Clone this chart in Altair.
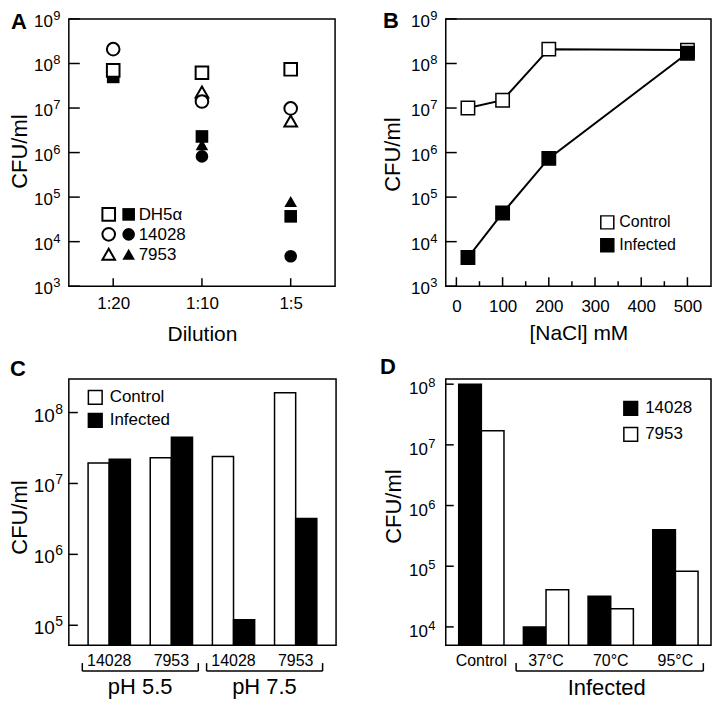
import altair as alt
import pandas as pd

# ------------------------------------------------------------------ data
# Panel A : CFU/ml vs dilution (open = control, filled = infected)
dilutions = ["1:20", "1:10", "1:5"]
strains_a = ["DH5α", "14028", "7953"]
a_open_dh5a = [7.0e7, 6.2e7, 7.4e7]
a_open_14028 = [2.1e8, 1.4e7, 9.8e6]
a_open_7953 = [None, 2.3e7, 5.1e6]
a_fill_dh5a = [5.0e7, 2.3e6, 3.7e4]
a_fill_14028 = [None, 8.2e5, 4.7e3]
a_fill_7953 = [None, 1.5e6, 8.0e4]

# Panel B : CFU/ml vs NaCl
nacl_mM = [25, 100, 200, 500]
b_control = [1.0e7, 1.5e7, 2.1e8, 2.0e8]
b_infected = [4.4e3, 4.4e4, 7.4e5, 1.7e8]
b_series = ["Control", "Infected"]
b_xticks = [0, 100, 200, 300, 400, 500]
b_xminor = [50, 150, 250, 350, 450]

# Panel C : pH
c_groups = ["pH 5.5|14028", "pH 5.5|7953", "pH 7.5|14028", "pH 7.5|7953"]
c_ph_labels = ["pH 5.5", "pH 7.5"]
c_control = [1.95e7, 2.3e7, 2.4e7, 1.9e8]
c_infected = [2.2e7, 4.5e7, 1.2e5, 3.2e6]

# Panel D : temperature
d_groups = ["Control", "37°C", "70°C", "95°C"]
d_strains = ["14028", "7953"]
d_14028 = [1.0e8, 1.0e4, 3.2e4, 4.0e5]
d_7953 = [1.7e7, 4.1e4, 2.0e4, 8.3e4]

# decade exponents shown on y axes
a_exp = [3, 4, 5, 6, 7, 8, 9]
c_exp = [5, 6, 7, 8]
d_exp = [4, 5, 6, 7, 8]

# y-axis domains
a_dom = [1e3, 1e9]
c_dom = [5.24e4, 2.98e8]
d_dom = [5.0e3, 1.22e8]

# ------------------------------------------------------------------ style
FONT = "Liberation Sans"
one = pd.DataFrame({"k": [0]})


def text_at(txt, x, y, size, bold=False, angle=0, align="center", baseline="middle"):
    kw = dict(text=txt, fontSize=size, font=FONT, align=align, baseline=baseline, color="black")
    if bold:
        kw["fontWeight"] = "bold"
    if angle:
        kw["angle"] = angle
    return alt.Chart(one).mark_text(**kw).encode(x=alt.value(x), y=alt.value(y))


def y_decades(exps, scale, xr, dy10, dyexp, fs10, fsexp, ticklen):
    df = pd.DataFrame({"v": [10.0 ** e for e in exps], "e": [str(e) for e in exps]})
    base = alt.Chart(df)
    ticks = base.mark_rule(color="black", strokeWidth=1.5).encode(
        y=alt.Y("v:Q", scale=scale, axis=None), x=alt.value(0), x2=alt.value(ticklen))
    ten = base.mark_text(text="10", align="right", baseline="middle", dy=dy10,
                         fontSize=fs10, font=FONT, color="black").encode(
        x=alt.value(xr), y=alt.Y("v:Q", scale=scale, axis=None))
    ex = base.mark_text(align="left", baseline="middle", dy=dyexp,
                        fontSize=fsexp, font=FONT, color="black").encode(
        x=alt.value(xr + 0.5), y=alt.Y("v:Q", scale=scale, axis=None), text="e:N")
    return [ticks, ten, ex]


# ------------------------------------------------------------------ panel A
WA, HA = 267, 268
ya = alt.Scale(type="log", domain=a_dom, nice=False)
xa = alt.Scale(type="point", domain=dilutions, padding=0.5)
shape_a = alt.Scale(domain=strains_a, range=["square", "circle", "triangle-up"])


def long_a(pairs):
    rows = []
    for s, vals in pairs:
        for d, v in zip(dilutions, vals):
            if v is not None:
                rows.append({"dil": d, "strain": s, "cfu": v})
    return pd.DataFrame(rows)


a_open_df = long_a([("DH5α", a_open_dh5a), ("7953", a_open_7953), ("14028", a_open_14028)])
a_fill_df = long_a([("DH5α", a_fill_dh5a), ("7953", a_fill_7953), ("14028", a_fill_14028)])

a_xaxis = alt.Axis(title="Dilution", labelAngle=0, ticks=False, tickSize=0, domain=False,
                   labelFontSize=17, labelPadding=9, titleFontSize=21, titlePadding=12)
a_x = alt.X("dil:N", scale=xa, axis=a_xaxis)
a_filled = alt.Chart(a_fill_df).mark_point(filled=True, color="black", size=160, opacity=1).encode(
    x=a_x, y=alt.Y("cfu:Q", scale=ya, axis=None),
    shape=alt.Shape("strain:N", scale=shape_a, legend=None))
a_opened = alt.Chart(a_open_df).mark_point(filled=True, fill="white", stroke="black", strokeWidth=2,
                                          size=160, opacity=1).encode(
    x=a_x, y=alt.Y("cfu:Q", scale=ya, axis=None),
    shape=alt.Shape("strain:N", scale=shape_a, legend=None))
a_xticks = alt.Chart(pd.DataFrame({"dil": dilutions})).mark_rule(color="black", strokeWidth=1.5).encode(
    x=a_x, y=alt.value(HA), y2=alt.value(HA - 8))

a_leg = []
for i, (s, shp) in enumerate(zip(strains_a, ["square", "circle", "triangle-up"])):
    yy = 196 + 20 * i
    a_leg.append(alt.Chart(one).mark_point(shape=shp, filled=True, fill="white", stroke="black",
                                           strokeWidth=2, size=160, opacity=1).encode(
        x=alt.value(40), y=alt.value(yy)))
    a_leg.append(alt.Chart(one).mark_point(shape=shp, filled=True, color="black", size=160,
                                           opacity=1).encode(x=alt.value(60), y=alt.value(yy)))
    a_leg.append(text_at(s, 70, yy + 1, 17, align="left"))

panel_a = alt.layer(
    *y_decades(a_exp, ya, -16, 3, -3, 17, 13, 11),
    a_xticks, a_filled, a_opened, *a_leg,
    text_at("CFU/ml", -49, HA / 2 - 1, 22, angle=270),
    text_at("A", -58, 10, 22, bold=True, align="left", baseline="alphabetic"),
).properties(width=WA, height=HA)

# ------------------------------------------------------------------ panel B
WB, HB = 266, 268
yb = alt.Scale(type="log", domain=a_dom, nice=False)
xb = alt.Scale(domain=[-23, 551], nice=False, zero=False)
b_df = pd.DataFrame({
    "nacl": nacl_mM * 2,
    "cfu": b_control + b_infected,
    "series": [b_series[0]] * len(nacl_mM) + [b_series[1]] * len(nacl_mM)})
b_xaxis = alt.Axis(title="[NaCl] mM", values=b_xticks, ticks=False, tickSize=0,
                   domain=False, grid=False, labelFontSize=17, labelPadding=12,
                   titleFontSize=21, titlePadding=8)
b_x = alt.X("nacl:Q", scale=xb, axis=b_xaxis)
b_lines = alt.Chart(b_df).mark_line(color="black", strokeWidth=2).encode(
    x=b_x, y=alt.Y("cfu:Q", scale=yb, axis=None), detail="series:N")
b_points = alt.Chart(b_df).mark_point(shape="square", filled=True, stroke="black", strokeWidth=1.5,
                                      size=180, opacity=1).encode(
    x=b_x, y=alt.Y("cfu:Q", scale=yb, axis=None),
    fill=alt.Fill("series:N", scale=alt.Scale(domain=b_series, range=["white", "black"]),
                  legend=alt.Legend(orient="none", legendX=154, legendY=196, title=None,
                                    symbolType="square", symbolSize=170, symbolStrokeColor="black",
                                    symbolStrokeWidth=1.5, labelFontSize=16, labelFont=FONT,
                                    labelOffset=4, rowPadding=3, padding=0)))
b_major = alt.Chart(pd.DataFrame({"nacl": b_xticks})).mark_rule(
    color="black", strokeWidth=1.5).encode(x=b_x, y=alt.value(HB), y2=alt.value(HB - 9))
b_minor = alt.Chart(pd.DataFrame({"nacl": b_xminor})).mark_rule(
    color="black", strokeWidth=1.5).encode(x=b_x, y=alt.value(HB), y2=alt.value(HB - 5))

panel_b = alt.layer(
    *y_decades(a_exp, yb, -16, 3, -3, 17, 13, 11),
    b_major, b_minor, b_lines, b_points,
    text_at("CFU/ml", -53, HB / 2 + 2, 22, angle=270),
    text_at("B", -63, 9, 22, bold=True, align="left", baseline="alphabetic"),
).properties(width=WB, height=HB)

# ------------------------------------------------------------------ panel C
WC, HC = 268, 267
yc = alt.Scale(type="log", domain=c_dom, nice=False)
xc = alt.Scale(domain=c_groups, paddingInner=0.32, paddingOuter=0.31)
c_df = pd.DataFrame({
    "g": c_groups * 2,
    "cond": ["Control"] * 4 + ["Infected"] * 4,
    "cfu": c_control + c_infected})
c_xaxis = alt.Axis(title=None, labelAngle=0, ticks=False, tickSize=0, domain=False,
                   labelExpr="split(datum.label, '|')[1]", labelFontSize=16, labelPadding=7)
c_bars = alt.Chart(c_df).mark_bar(stroke="black", strokeWidth=1.5).encode(
    x=alt.X("g:N", scale=xc, axis=c_xaxis),
    xOffset=alt.XOffset("cond:N", scale=alt.Scale(domain=["Control", "Infected"], paddingInner=0,
                                                  paddingOuter=0)),
    y=alt.Y("cfu:Q", scale=yc, axis=None),
    y2=alt.Y2Datum(c_dom[0]),
    fill=alt.Fill("cond:N", scale=alt.Scale(domain=["Control", "Infected"], range=["white", "black"]),
                  legend=alt.Legend(orient="none", legendX=18, legendY=10, title=None,
                                    symbolType="square", symbolSize=190, symbolStrokeColor="black",
                                    symbolStrokeWidth=1.5, labelFontSize=17, labelFont=FONT,
                                    labelOffset=6, rowPadding=2, padding=0)))
c_br = pd.DataFrame({"g": [c_groups[0], c_groups[2]], "b": [c_groups[1], c_groups[3]],
                     "lab": c_ph_labels})
c_hline = alt.Chart(c_br).mark_rule(color="black", strokeWidth=1.5, xOffset=-27, x2Offset=27).encode(
    x=alt.X("g:N", scale=xc, axis=c_xaxis), x2="b:N", y=alt.value(HC + 26))
c_lt = alt.Chart(c_br).mark_rule(color="black", strokeWidth=1.5, xOffset=-27).encode(
    x=alt.X("g:N", scale=xc, axis=c_xaxis), y=alt.value(HC + 26), y2=alt.value(HC + 18))
c_rt = alt.Chart(c_br.assign(g=c_br["b"])).mark_rule(color="black", strokeWidth=1.5, xOffset=27).encode(
    x=alt.X("g:N", scale=xc, axis=c_xaxis), y=alt.value(HC + 26), y2=alt.value(HC + 18))
c_ph = alt.Chart(c_br).mark_text(fontSize=22, font=FONT, dx=31, color="black").encode(
    x=alt.X("g:N", scale=xc, axis=c_xaxis), y=alt.value(HC + 42), text="lab:N")

panel_c = alt.layer(
    *y_decades(c_exp, yc, -14, 3, -3, 19, 14, 9),
    c_bars, c_hline, c_lt, c_rt, c_ph,
    text_at("CFU/ml", -49, 139, 22, angle=270),
    text_at("C", -59, -3, 22, bold=True, align="left", baseline="alphabetic"),
).properties(width=WC, height=HC)

# ------------------------------------------------------------------ panel D
WD, HD = 266, 267
yd = alt.Scale(type="log", domain=d_dom, nice=False)
xd = alt.Scale(domain=d_groups, paddingInner=0.3, paddingOuter=0.2)
d_df = pd.DataFrame({
    "g": d_groups * 2,
    "strain": [d_strains[0]] * 4 + [d_strains[1]] * 4,
    "cfu": d_14028 + d_7953})
d_xaxis = alt.Axis(title=None, labelAngle=0, ticks=False, tickSize=0, domain=False,
                   labelFontSize=16, labelPadding=7)
d_bars = alt.Chart(d_df).mark_bar(stroke="black", strokeWidth=1.5).encode(
    x=alt.X("g:N", scale=xd, axis=d_xaxis),
    xOffset=alt.XOffset("strain:N", scale=alt.Scale(domain=d_strains, paddingInner=0, paddingOuter=0)),
    y=alt.Y("cfu:Q", scale=yd, axis=None),
    y2=alt.Y2Datum(d_dom[0]),
    fill=alt.Fill("strain:N", scale=alt.Scale(domain=d_strains, range=["black", "white"]),
                  legend=alt.Legend(orient="none", legendX=177, legendY=21, title=None,
                                    symbolType="square", symbolSize=190, symbolStrokeColor="black",
                                    symbolStrokeWidth=1.5, labelFontSize=17, labelFont=FONT,
                                    labelOffset=6, rowPadding=5, padding=0)))
d_br = pd.DataFrame({"g": [d_groups[1]], "b": [d_groups[3]], "mid": [d_groups[2]], "lab": ["Infected"]})
d_hline = alt.Chart(d_br).mark_rule(color="black", strokeWidth=1.5, xOffset=-30, x2Offset=28).encode(
    x=alt.X("g:N", scale=xd, axis=d_xaxis), x2="b:N", y=alt.value(HD + 26))
d_lt = alt.Chart(d_br).mark_rule(color="black", strokeWidth=1.5, xOffset=-30).encode(
    x=alt.X("g:N", scale=xd, axis=d_xaxis), y=alt.value(HD + 26), y2=alt.value(HD + 18))
d_rt = alt.Chart(d_br.assign(g=d_br["b"])).mark_rule(color="black", strokeWidth=1.5, xOffset=28).encode(
    x=alt.X("g:N", scale=xd, axis=d_xaxis), y=alt.value(HD + 26), y2=alt.value(HD + 18))
d_lab = alt.Chart(d_br.assign(g=d_br["mid"])).mark_text(fontSize=22, font=FONT, dx=-4,
                                                        color="black").encode(
    x=alt.X("g:N", scale=xd, axis=d_xaxis), y=alt.value(HD + 43), text="lab:N")

panel_d = alt.layer(
    *y_decades(d_exp, yd, -18, 5, -1, 17, 13, 8),
    d_bars, d_hline, d_lt, d_rt, d_lab,
    text_at("CFU/ml", -52, 128, 22, angle=270),
    text_at("D", -66, -5, 22, bold=True, align="left", baseline="alphabetic"),
).properties(width=WD, height=HD)

# ------------------------------------------------------------------ layout
res = dict(x="independent", y="independent", fill="independent", shape="independent",
           xOffset="independent")
chart = alt.concat(panel_a, panel_b, panel_c, panel_d, columns=2,
                   spacing={"row": 93, "column": 110}, bounds="flush").resolve_scale(**res).properties(
    padding=0, background="white"
).configure_view(stroke="black", strokeWidth=1.5).configure_axis(
    labelColor="black", titleColor="black", titleFont=FONT, labelFont=FONT,
    titleFontWeight="normal", grid=False
).configure_legend(labelColor="black", labelFont=FONT)

chart.save("out.html", embed_options={"renderer": "svg", "actions": False})
